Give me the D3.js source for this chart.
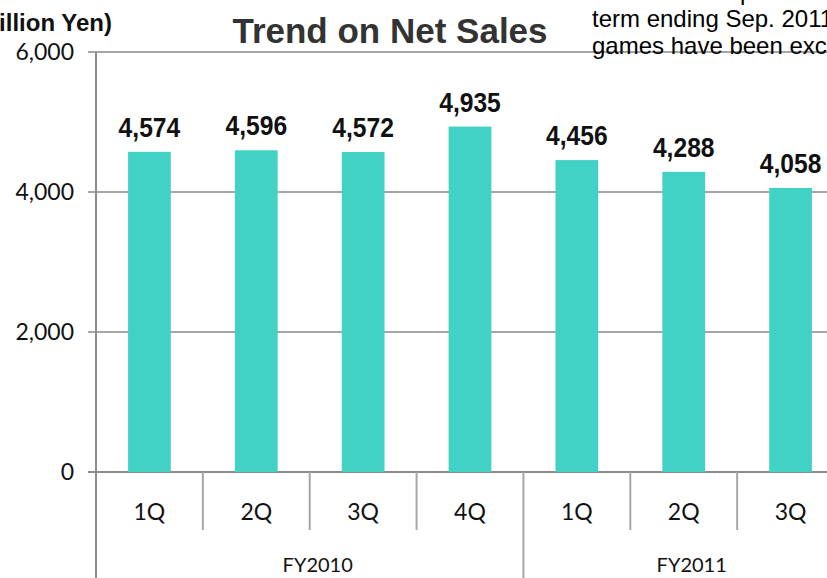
<!DOCTYPE html>
<html>
<head>
<meta charset="utf-8">
<script src="https://cdn.jsdelivr.net/npm/d3@7"></script>
<style>
  body { margin: 0; background: #fff; }
  svg { display: block; }
</style>
</head>
<body>
<div id="chart"></div>
<script>
// quarters and their fiscal year groups
const quarters = ['1Q', '2Q', '3Q', '4Q', '1Q', '2Q', '3Q'];
const fiscalYears = ['FY2010', 'FY2010', 'FY2010', 'FY2010', 'FY2011', 'FY2011', 'FY2011'];
const netSales = [4574, 4596, 4572, 4935, 4456, 4288, 4058];
const yTicks = [0, 2000, 4000, 6000];
const noteLines = ['*Sales of companies for the', 'term ending Sep. 2011 and social', 'games have been excluded.'];

const width = 827, height = 578;
const margin = { top: 52, left: 96, bottom: 106 };
const plotRight = 844; // last band runs off the right edge
const zeroY = height - margin.bottom;

const svg = d3.select('#chart')
    .append('svg')
    .attr('width', width)
    .attr('height', height);

const x = d3.scaleBand()
    .domain(d3.range(netSales.length))
    .range([margin.left, plotRight])
    .paddingInner(0)
    .paddingOuter(0);

const y = d3.scaleLinear()
    .domain([0, 6000])
    .range([zeroY, margin.top]);

const barW = x.bandwidth() * 0.4;

// gridlines
svg.append('g')
    .selectAll('line')
    .data(yTicks)
    .enter().append('line')
    .attr('x1', margin.left - 8)
    .attr('x2', width)
    .attr('y1', d => y(d))
    .attr('y2', d => y(d))
    .attr('stroke', d => d === 0 ? '#8c8c8c' : '#a6a6a6')
    .attr('stroke-width', 2);

// y tick labels
svg.append('g')
    .selectAll('text')
    .data(yTicks)
    .enter().append('text')
    .attr('x', 74)
    .attr('y', d => y(d))
    .attr('dy', '0.35em')
    .attr('text-anchor', 'end')
    .attr('font-family', 'Lato, "Noto Sans", sans-serif')
    .attr('font-size', '23px')
    .attr('fill', '#111')
    .text(d => d3.format(',')(d));

// bars
svg.append('g')
    .selectAll('rect')
    .data(netSales)
    .enter().append('rect')
    .attr('x', (d, i) => x(i) + (x.bandwidth() - barW) / 2)
    .attr('y', d => y(d))
    .attr('width', barW)
    .attr('height', d => zeroY - y(d))
    .attr('fill', '#41d2c5');

// value labels, squeezed a bit to look condensed
svg.append('g')
    .selectAll('text')
    .data(netSales)
    .enter().append('text')
    .attr('transform', (d, i) => `translate(${x(i) + x.bandwidth() / 2},${y(d) - 15}) scale(0.88,1)`)
    .attr('text-anchor', 'middle')
    .attr('font-family', '"Liberation Sans", Arial, sans-serif')
    .attr('font-weight', 'bold')
    .attr('font-size', '28px')
    .attr('fill', '#111')
    .text(d => d3.format(',')(d));

// y axis line
svg.append('line')
    .attr('x1', margin.left).attr('x2', margin.left)
    .attr('y1', margin.top).attr('y2', height)
    .attr('stroke', '#8c8c8c')
    .attr('stroke-width', 2);

// quarter dividers and labels
const cat = svg.append('g');
cat.selectAll('line')
    .data(d3.range(1, netSales.length))
    .enter().append('line')
    .attr('x1', i => x(i)).attr('x2', i => x(i))
    .attr('y1', zeroY)
    .attr('y2', i => fiscalYears[i] !== fiscalYears[i - 1] ? height : zeroY + 58)
    .attr('stroke', '#a6a6a6')
    .attr('stroke-width', 2);

cat.selectAll('text')
    .data(quarters)
    .enter().append('text')
    .attr('x', (d, i) => x(i) + x.bandwidth() / 2)
    .attr('y', zeroY + 48)
    .attr('text-anchor', 'middle')
    .attr('font-family', 'Lato, "Noto Sans", sans-serif')
    .attr('font-size', '23px')
    .attr('fill', '#111')
    .text(d => d);

// fiscal year labels
const groups = d3.groups(d3.range(netSales.length), i => fiscalYears[i]);
svg.append('g')
    .selectAll('text')
    .data(groups)
    .enter().append('text')
    .attr('x', g => (x(g[1][0]) + x(g[1][g[1].length - 1]) + x.bandwidth()) / 2 + 8)
    .attr('y', 572)
    .attr('text-anchor', 'middle')
    .attr('font-family', 'Lato, "Noto Sans", sans-serif')
    .attr('font-size', '20px')
    .attr('fill', '#111')
    .text(g => g[0]);

// title
svg.append('text')
    .attr('x', 390)
    .attr('y', 43)
    .attr('text-anchor', 'middle')
    .attr('font-family', '"Liberation Sans", Arial, sans-serif')
    .attr('font-weight', 'bold')
    .attr('font-size', '35px')
    .attr('fill', '#333')
    .text('Trend on Net Sales');

// unit label (runs off the left edge)
svg.append('text')
    .attr('x', 112)
    .attr('y', 31)
    .attr('text-anchor', 'end')
    .attr('font-family', '"Liberation Sans", Arial, sans-serif')
    .attr('font-weight', 'bold')
    .attr('font-size', '24px')
    .attr('fill', '#111')
    .text('(Million Yen)');

// note at top right
svg.append('g')
    .selectAll('text')
    .data(noteLines)
    .enter().append('text')
    .attr('x', 592)
    .attr('y', (d, i) => -0.5 + i * 27)
    .attr('font-family', '"Liberation Sans", Arial, sans-serif')
    .attr('font-size', '24px')
    .attr('fill', '#000')
    .text(d => d);
</script>
</body>
</html>
